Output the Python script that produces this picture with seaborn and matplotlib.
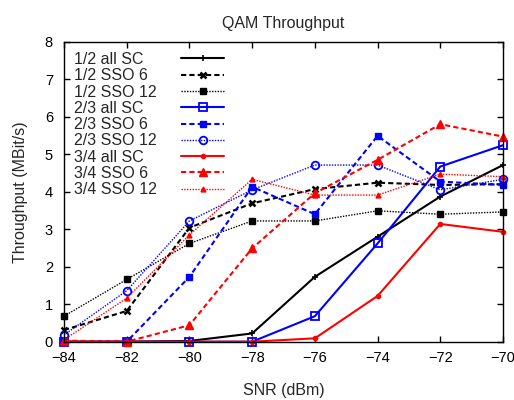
import matplotlib
matplotlib.use("Agg")
import matplotlib.pyplot as plt
import seaborn as sns
import pandas as pd

snr = [-84, -82, -80, -78, -76, -74, -72, -70]

half_all_sc = [0.0, 0.0, 0.02, 0.22, 1.73, 2.80, 3.87, 4.71]
half_sso6 = [0.31, 0.82, 3.04, 3.69, 4.07, 4.24, 4.18, 4.20]
half_sso12 = [0.68, 1.66, 2.62, 3.22, 3.22, 3.49, 3.40, 3.46]
twothirds_all_sc = [0.0, 0.0, 0.0, 0.0, 0.68, 2.62, 4.67, 5.24]
twothirds_sso6 = [0.0, 0.0, 1.73, 4.13, 3.40, 5.49, 4.27, 4.18]
twothirds_sso12 = [0.18, 1.36, 3.22, 4.05, 4.71, 4.71, 4.05, 4.33]
threeq_all_sc = [0.0, 0.0, 0.0, 0.0, 0.09, 1.22, 3.14, 2.93]
threeq_sso6 = [0.03, 0.0, 0.44, 2.49, 3.96, 4.85, 5.80, 5.47]
threeq_sso12 = [0.05, 1.16, 2.85, 4.33, 3.91, 3.91, 4.47, 4.40]

labels = ["1/2 all SC", "1/2 SSO 6", "1/2 SSO 12",
          "2/3 all SC", "2/3 SSO 6", "2/3 SSO 12",
          "3/4 all SC", "3/4 SSO 6", "3/4 SSO 12"]
series = [half_all_sc, half_sso6, half_sso12,
          twothirds_all_sc, twothirds_sso6, twothirds_sso12,
          threeq_all_sc, threeq_sso6, threeq_sso12]

sns.set_theme(style="ticks")
plt.rcParams["font.family"] = ["Liberation Sans", "DejaVu Sans"]

styles = [
    dict(color="black", ls="-", lw=1.5, marker="+", ms=4, mew=1.2, mfc="black"),
    dict(color="black", ls=(0, (2.5, 1.5)), lw=1.5, marker="x", ms=4, mew=1.8, mfc="black"),
    dict(color="black", ls=(0, (1, 1)), lw=1.0, marker="s", ms=4, mew=1, mfc="black"),
    dict(color="#0000ff", ls="-", lw=1.5, marker="s", ms=5.5, mew=1.3, mfc="none"),
    dict(color="#0000ff", ls=(0, (2.5, 1.5)), lw=1.5, marker="s", ms=5, mew=1, mfc="#0000ff"),
    dict(color="#0000ff", ls=(0, (1, 1)), lw=1.0, marker="o", ms=5.5, mew=1.3, mfc="none"),
    dict(color="#ff0000", ls="-", lw=1.5, marker="o", ms=3, mew=1, mfc="#ff0000"),
    dict(color="#ff0000", ls=(0, (2.5, 1.5)), lw=1.5, marker="^", ms=5.5, mew=1, mfc="#ff0000"),
    dict(color="#ff0000", ls=(0, (1, 1)), lw=1.0, marker="^", ms=3.5, mew=1, mfc="#ff0000"),
]

fig = plt.figure(figsize=(5.14, 4.0), dpi=100)
ax = fig.add_axes([64 / 514, 1 - 341.7 / 400, (503 - 64) / 514, 300 / 400])

for lab, vals, st in zip(labels, series, styles):
    df = pd.DataFrame({"snr": snr, "tp": vals})
    st = dict(st)
    ls = st.pop("ls")
    sns.lineplot(data=df, x="snr", y="tp", ax=ax, label=lab, linestyle=ls,
                 markeredgecolor=st["color"], clip_on=False, **st)

ax.set_xlim(-84, -70)
ax.set_ylim(0, 8)
ax.set_xticks(snr)
ax.set_yticks(range(0, 9))
ax.tick_params(direction="in", top=True, right=True, length=4, width=1,
               labelsize=10.5, color="black", labelcolor="black")
ax.tick_params(axis="x", pad=7)
ax.tick_params(axis="y", pad=8)
for s in ax.spines.values():
    s.set_linewidth(1.0)
    s.set_color("black")
ax.set_xlabel("SNR (dBm)", fontsize=11.5, labelpad=13)
ax.set_ylabel("Throughput (MBit/s)", fontsize=11.5, labelpad=12)
ax.set_title("QAM Throughput", fontsize=11.5, pad=10)

leg = ax.legend(loc="upper left", frameon=False, markerfirst=False,
                fontsize=11.5, handlelength=2.7, labelspacing=0.08,
                handletextpad=1.0, borderaxespad=0.3, borderpad=0.35)
# left-align texts, keep handles in one column
for col in leg._legend_handle_box.get_children():
    col.align = "left"
    for item in col.get_children():
        item.mode = "expand"
        item.width = 150

fig.savefig("out.png", dpi=100)
